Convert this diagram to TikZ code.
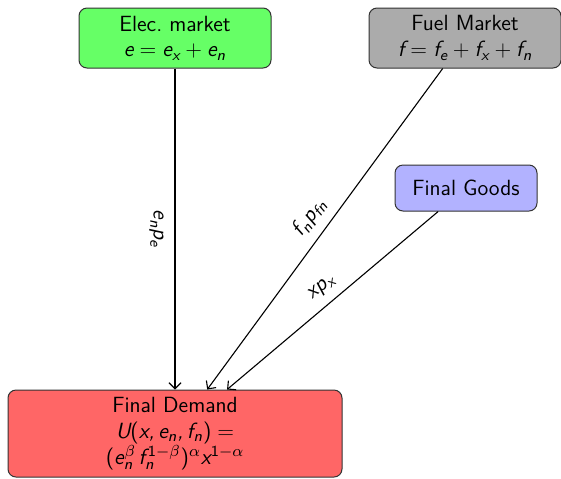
\documentclass[tikz,border=0pt]{standalone}
\usetikzlibrary{arrows.meta}
% sans-serif math: Latin letters and operators from Latin Modern Sans
\DeclareSymbolFont{operators}{TU}{lmss}{m}{n}
\DeclareSymbolFont{letters}{TU}{lmss}{m}{sl}
\DeclareSymbolFont{greekletters}{OML}{cmm}{m}{it}
\DeclareMathSymbol{\alpha}{\mathalpha}{greekletters}{"0B}
\DeclareMathSymbol{\beta}{\mathalpha}{greekletters}{"0C}
\mathcode`\,="612C
\begin{document}
\begin{tikzpicture}[x=0.5pt,y=-0.5pt,
  every node/.style={font=\sffamily\fontsize{11}{13}\selectfont},
  market/.style={draw=black!80, line width=0.5pt, rounded corners=4pt, align=center, inner sep=2pt},
  flow/.style={-{Straight Barb[length=3pt,width=6pt]}, line width=0.55pt},
  flowlabel/.style={sloped, pos=0.5}]
  \useasboundingbox (0,0) rectangle (561,478);
  % market and demand boxes
  \node[market, fill=green!60, minimum width=96pt, minimum height=30pt] (elec) at (175,38)
    {Elec.\ market\\ $e = e_x + e_n$};
  \node[market, fill=black!33, minimum width=96pt, minimum height=30pt] (fuel) at (465,38)
    {Fuel Market\\ $f = f_e + f_x + f_n$};
  \node[market, fill=blue!30, minimum width=71pt, minimum height=23pt] (goods) at (466,188)
    {Final Goods};
  \node[market, fill=red!60, minimum width=167pt, minimum height=43.5pt] (demand) at (175,433.5)
    {Final Demand\\ $U(x, e_n, f_n) =$\\
     $(e_n^{\mkern1mu\beta}\mkern2mu f_n^{\mkern3mu 1-\beta})^{\alpha} x^{1-\alpha}$};
  % flows into final demand
  \draw[flow] (elec) -- node[flowlabel, below=2pt] {$e_n p_e$} (demand);
  \draw[flow] (fuel) -- node[flowlabel, above=1pt] {$f_n p_{fn}$} (demand);
  \draw[flow] (goods) -- node[flowlabel, above=1pt] {$x p_x$} (demand);
\end{tikzpicture}
\end{document}
